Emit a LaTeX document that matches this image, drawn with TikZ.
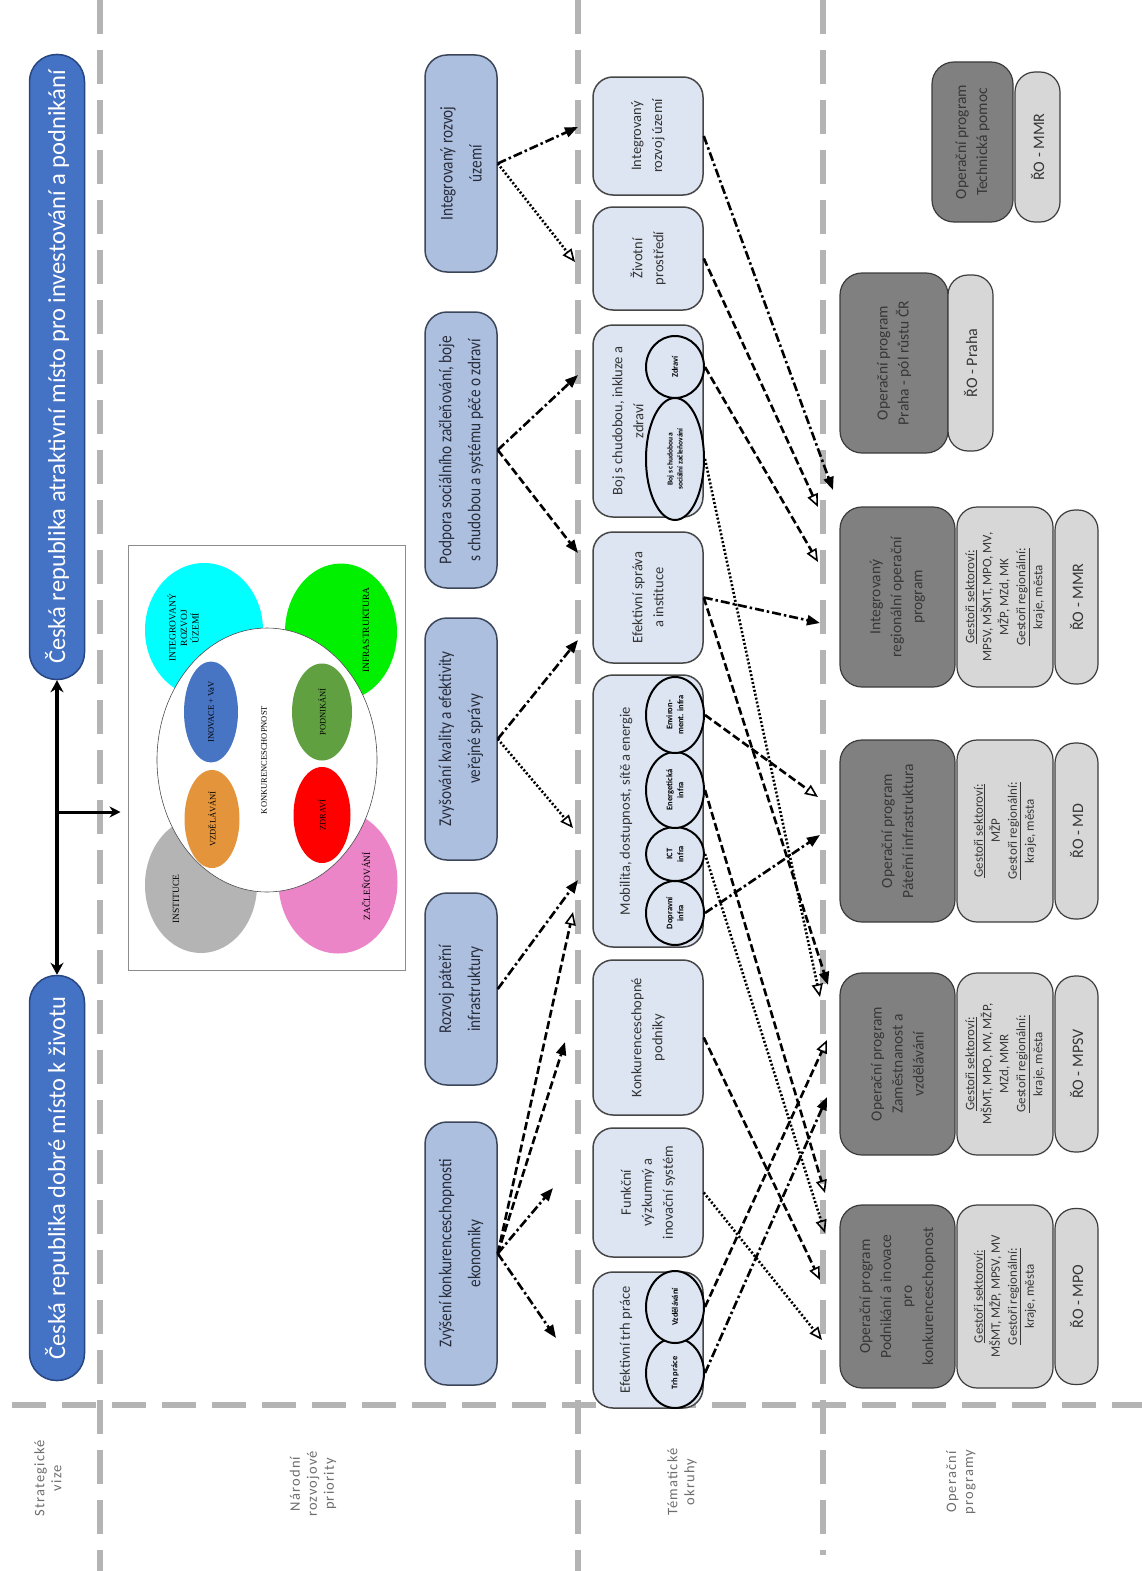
\documentclass[tikz,border=0pt]{standalone}
\usepackage{fontspec}
\setmainfont{Carlito}
\newfontfamily\narrowfont{Carlito}[FakeStretch=0.85]
\newfontfamily\spacedfont{Carlito}[LetterSpace=8]
\newfontfamily\picfont{Liberation Serif}
\usetikzlibrary{arrows.meta,shapes.geometric}
\definecolor{sepgray}{RGB}{180,180,180}
\definecolor{visfill}{RGB}{68,114,196}
\definecolor{visborder}{RGB}{40,70,130}
\definecolor{priofill}{RGB}{172,191,222}
\definecolor{prioborder}{RGB}{60,70,90}
\definecolor{priotext}{RGB}{40,45,60}
\definecolor{temafill}{RGB}{221,229,243}
\definecolor{temaborder}{RGB}{70,70,70}
\definecolor{opdark}{RGB}{128,128,128}
\definecolor{oplight}{RGB}{215,215,215}
\definecolor{opborder}{RGB}{60,60,60}
\definecolor{optext}{RGB}{55,55,55}
\definecolor{labgray}{RGB}{110,110,110}
\definecolor{ecyan}{RGB}{0,255,255}
\definecolor{egreen}{RGB}{0,240,0}
\definecolor{egray}{RGB}{180,180,180}
\definecolor{epink}{RGB}{236,132,200}
\definecolor{eblue}{RGB}{72,116,196}
\definecolor{eorange}{RGB}{228,148,58}
\definecolor{edgreen}{RGB}{96,160,64}
\definecolor{ered}{RGB}{255,0,0}
\tikzset{
  sepline/.style={draw=sepgray, line width=6pt, dash pattern=on 34pt off 16pt},
  visbox/.style={rotate=90, draw=visborder, fill=visfill, line width=1.5pt, rounded corners=27pt,
    minimum height=55pt, text=white, font=\fontsize{24.5}{28}\selectfont, inner sep=0pt},
  priobox/.style={rotate=90, draw=prioborder, fill=priofill, line width=1.5pt, rounded corners=22pt,
    minimum height=72pt, align=center, text=priotext, font=\narrowfont\fontsize{18}{29}\selectfont, inner sep=0pt},
  temabox/.style={rotate=90, draw=temaborder, fill=temafill, line width=1.5pt, rounded corners=20pt,
    minimum height=110pt, align=center, text=black!80, font=\fontsize{14.5}{21}\selectfont, inner sep=0pt},
  tematitle/.style={rotate=90, align=center, text=black!80, font=\fontsize{14.5}{21}\selectfont, inner sep=0pt},
  inell/.style={rotate=90, ellipse, draw=black, fill=temafill, line width=2pt, minimum height=58pt,
    align=center, font=\bfseries\fontsize{8.5}{11}\selectfont, inner xsep=-14pt, inner ysep=0pt},
  opdarkbox/.style={rotate=90, draw=opborder, fill=opdark, line width=1.2pt, rounded corners=22pt,
    align=center, text=optext, font=\fontsize{15.5}{21}\selectfont, inner sep=0pt},
  oplightbox/.style={rotate=90, draw=opborder, fill=oplight, line width=1.2pt, rounded corners=20pt,
    align=center, text=optext, font=\fontsize{16}{18}\selectfont, inner sep=0pt},
  gestbox/.style={oplightbox, font=\fontsize{13}{17}\selectfont},
  sidelab/.style={rotate=90, align=center, text=labgray, font=\spacedfont\fontsize{14.5}{17}\selectfont, inner sep=0pt},
  pell/.style={rotate=90, ellipse, inner xsep=-15pt, inner ysep=0pt, align=center, font=\picfont\fontsize{8.5}{9}\selectfont},
  ptext/.style={rotate=90, inner sep=0pt, align=center, font=\picfont\fontsize{9.5}{11.5}\selectfont},
  arr/.style={line width=2.6pt},
  ddot/.style={arr, dash pattern=on 9pt off 3pt on 2.5pt off 3pt},
  dsh/.style={arr, dash pattern=on 8pt off 3.5pt},
  dtt/.style={arr, dash pattern=on 2pt off 2pt},
  fh/.style={-{Triangle[length=13pt,width=10pt]}},
  oh/.style={-{Triangle[open,length=13pt,width=11pt,line width=1.6pt]}}
}
\begin{document}
\begin{tikzpicture}[x=1pt,y=-1pt]
\useasboundingbox (0,0) rectangle (1142,1571);
\fill[white] (0,0) rectangle (1142,1571);
% separators
\draw[sepline] (100,0) -- (100,1571);
\draw[sepline] (578,0) -- (578,1571);
\draw[sepline] (823,0) -- (823,1555);
\draw[sepline] (12,1405) -- (1142,1405);

% side labels
\node[sidelab] (l1) at (48,1478) {Strategické\\vize};
\node[sidelab] (l2) at (313,1484) {Národní\\rozvojové\\priority};
\node[sidelab] (l3) at (682,1482) {Tématické\\okruhy};
\node[sidelab] (l4) at (961,1482) {Operační\\programy};

% visions
\node[visbox, minimum width=625pt] (vis2) at (57,367) {Česká republika atraktivní místo pro investování a podnikání};
\node[visbox, minimum width=405pt] (vis1) at (57,1178) {Česká republika dobré místo k životu};
\draw[line width=4.5pt, {Stealth[length=12pt,width=13pt]}-{Stealth[length=12pt,width=13pt]}] (vis2.west) -- (vis1.east);

% picture frame
\node[draw=black!45, line width=1pt, minimum width=277pt, minimum height=425pt, inner sep=0pt] (picfr) at (266.5,757.5) {};
\coordinate (br) at (57,812);
\draw[line width=3pt, -{Stealth[length=11pt,width=11pt]}, shorten >=7pt] (br) -- (br -| picfr.west);
\node[pell, fill=ecyan, minimum width=134pt, minimum height=118pt] (ec) at (204,630) {};
\node[pell, fill=egreen, minimum width=137pt, minimum height=112pt] (eg) at (341,632) {};
\node[pell, fill=egray, minimum width=136pt, minimum height=112pt] (egr) at (201,885) {};
\node[pell, fill=epink, minimum width=143pt, minimum height=119pt] (ep) at (338,882) {};
\node[ptext] (ect) at (183,628) {INTEGROVANÝ\\ROZVOJ\\ÚZEMÍ};
\node[ptext] (egt) at (366,630) {INFRASTRUKTURA};
\node[ptext] (egrt) at (176,899) {INSTITUCE};
\node[ptext] (ept) at (366,886) {ZAČLEŇOVÁNÍ};
\node[pell, fill=white, draw=black!70, line width=0.6pt, minimum width=264pt, minimum height=220pt] (ew) at (267,760) {};
\node[rotate=90, inner sep=0pt, font=\picfont\fontsize{8.5}{9}\selectfont] (ewt) at (264,760) {KONKURENCESCHOPNOST};
\node[pell, fill=eblue, minimum width=101pt, minimum height=54pt] (eb) at (211,712) {INOVACE + VaV};
\node[pell, fill=eorange, minimum width=98pt, minimum height=55pt] (eo) at (212,819) {VZDĚLÁVÁNÍ};
\node[pell, fill=edgreen, minimum width=97pt, minimum height=60pt] (edg) at (322,712) {PODNIKÁNÍ};
\node[pell, fill=ered, minimum width=96pt, minimum height=57pt] (er) at (322,815) {ZDRAVÍ};

% priorities
\node[priobox, minimum width=263pt] (p1) at (461,1253.5) {Zvýšení konkurenceschopnosti\\ekonomiky};
\node[priobox, minimum width=192pt] (p2) at (461,989) {Rozvoj páteřní\\infrastruktury};
\node[priobox, minimum width=242pt] (p3) at (461,739) {Zvyšování kvality a efektivity\\veřejné správy};
\node[priobox, minimum width=276pt] (p4) at (461,450) {Podpora sociálního začleňování, boje\\s chudobou a systému péče o zdraví};
\node[priobox, minimum width=217pt] (p5) at (461,163.5) {Integrovaný rozvoj\\území};

% thematic
\node[temabox, minimum width=136pt] (t1) at (648,1340) {};
\node[tematitle] (t1t) at (626,1340) {Efektivní trh práce};
\node[inell, minimum width=70pt] (t1a) at (675,1373) {Trh práce};
\node[inell, minimum width=72pt] (t1b) at (675,1307) {Vzdělávání};
\node[temabox, minimum width=129pt] (t2) at (648,1192.5) {Funkční\\výzkumný a\\inovační systém};
\node[temabox, minimum width=155pt] (t3) at (648,1037.5) {Konkurenceschopné\\podniky};
\node[temabox, minimum width=272pt] (t4) at (648,811) {};
\node[tematitle] (t4t) at (626,811) {Mobilita, dostupnost, sítě a energie};
\node[inell, minimum width=64pt] (t4a) at (675,913) {Dopravní\\infra};
\node[inell, minimum width=54pt] (t4b) at (675,854) {ICT\\infra};
\node[inell, minimum width=76pt] (t4c) at (675,790) {Energetická\\infra};
\node[inell, minimum width=76pt] (t4d) at (675,715) {Environ-\\ment. infra};
\node[temabox, minimum width=131pt] (t5) at (648,597.5) {Efektivní správa\\a instituce};
\node[temabox, minimum width=192pt] (t6) at (648,421) {};
\node[tematitle] (t6t) at (628,421) {Boj s chudobou, inkluze a\\zdraví};
\node[inell, minimum width=122pt, font=\bfseries\fontsize{7.5}{10}\selectfont] (t6a) at (675,459) {Boj s chudobou a\\sociální začleňování};
\node[inell, minimum width=62pt] (t6b) at (675,367) {Zdraví};
\node[temabox, minimum width=103pt] (t7) at (648,258.5) {Životní\\prostředí};
\node[temabox, minimum width=118pt] (t8) at (648,136) {Integrovaný\\rozvoj území};

% operational programmes
\node[opdarkbox, minimum width=183pt, minimum height=115pt] (o1) at (897.5,1296.5) {Operační program\\Podnikání a inovace\\pro\\konkurenceschopnost};
\node[gestbox, minimum width=183pt, minimum height=96pt] (o1g) at (1005,1296.5) {\underline{Gestoři sektoroví:}\\MŠMT, MŽP, MPSV, MV\\\underline{Gestoři regionální:}\\kraje, města};
\node[oplightbox, minimum width=176pt, minimum height=43pt] (o1r) at (1076.5,1296.5) {ŘO - MPO};

\node[opdarkbox, minimum width=182pt, minimum height=115pt] (o2) at (897.5,1064) {Operační program\\Zaměstnanost a\\vzdělávání};
\node[gestbox, minimum width=182pt, minimum height=96pt] (o2g) at (1005,1064) {\underline{Gestoři sektoroví:}\\MŠMT, MPO, MV, MŽP,\\MZd, MMR\\\underline{Gestoři regionální:}\\kraje, města};
\node[oplightbox, minimum width=176pt, minimum height=43pt] (o2r) at (1076.5,1064) {ŘO - MPSV};

\node[opdarkbox, minimum width=182pt, minimum height=115pt] (o3) at (897.5,831) {Operační program\\Páteřní infrastruktura};
\node[gestbox, minimum width=182pt, minimum height=96pt] (o3g) at (1005,831) {\underline{Gestoři sektoroví:}\\MŽP\\\underline{Gestoři regionální:}\\kraje, města};
\node[oplightbox, minimum width=176pt, minimum height=43pt] (o3r) at (1076.5,831) {ŘO - MD};

\node[opdarkbox, minimum width=180pt, minimum height=115pt] (o4) at (897.5,597) {Integrovaný\\regionální operační\\program};
\node[gestbox, minimum width=180pt, minimum height=96pt] (o4g) at (1005,597) {\underline{Gestoři sektoroví:}\\MPSV, MŠMT, MPO, MV,\\MŽP, MZd, MK\\\underline{Gestoři regionální:}\\kraje, města};
\node[oplightbox, minimum width=174pt, minimum height=43pt] (o4r) at (1076.5,597) {ŘO - MMR};

\node[opdarkbox, minimum width=180pt, minimum height=108pt] (o5) at (894,363) {Operační program\\Praha - pól růstu ČR};
\node[oplightbox, minimum width=176pt, minimum height=45pt] (o5r) at (970.5,363) {ŘO - Praha};

\node[opdarkbox, minimum width=160pt, minimum height=81pt] (o6) at (972.5,142) {Operační program\\Technická pomoc};
\node[oplightbox, minimum width=150pt, minimum height=45pt] (o6r) at (1037.5,147) {ŘO - MMR};

% arrow end coordinates: priorities -> thematic
\coordinate (a1) at (578,127);
\coordinate (a2) at (575,262);
\coordinate (a3) at (578,375);
\coordinate (a4) at (578,553);
\coordinate (a5) at (578,640);
\coordinate (a6) at (573,828);
\coordinate (a7) at (578,880);
\coordinate (a8) at (573,912);
\coordinate (a9) at (565,1042);
\coordinate (a10) at (553,1188);
\coordinate (a11) at (556,1338);
\draw[ddot,fh] (p5.south) -- (a1);
\draw[dtt,oh] (p5.south) -- (a2);
\draw[ddot,fh] (p4.south) -- (a3);
\draw[dsh,fh] (p4.south) -- (a4);
\draw[ddot,fh] (p3.south) -- (a5);
\draw[dtt,oh] (p3.south) -- (a6);
\draw[ddot,fh] (p2.south) -- (a7);
\draw[dsh,oh] (p1.south) -- (a8);
\draw[dsh,fh] (p1.south) -- (a9);
\draw[ddot,fh] (p1.south) -- (a10);
\draw[ddot,fh] (p1.south) -- (a11);

% thematic -> operational programmes
\coordinate (b1) at (833,490);
\coordinate (b2) at (818,507);
\coordinate (b3) at (818,562);
\coordinate (b4) at (820,623);
\coordinate (b5) at (828,985);
\coordinate (b6) at (820,997);
\coordinate (b7) at (818,797);
\coordinate (b8) at (820,835);
\coordinate (b9) at (825,1193);
\coordinate (b10) at (825,1233);
\coordinate (b11) at (820,1280);
\coordinate (b12) at (822,1340);
\coordinate (b13) at (827,1040);
\coordinate (b14) at (827,1097);
\draw[ddot,fh] (t8.south) -- (b1);
\draw[dsh,oh] (t7.south) -- (b2);
\draw[dsh,oh] (t6b.south) -- (b3);
\draw[ddot,fh] (t5.south) -- (b4);
\draw[dsh,fh] (t5.south) -- (b5);
\draw[dtt,oh] (t6a.south) -- (b6);
\draw[dsh,oh] (t4d.south) -- (b7);
\draw[ddot,fh] (t4a.south) -- (b8);
\draw[dsh,oh] (t4c.south) -- (b9);
\draw[dtt,oh] (t4b.south) -- (b10);
\draw[dsh,oh] (t3.south) -- (b11);
\draw[dtt,oh] (t2.south) -- (b12);
\draw[dsh,oh] (t1b.south) -- (b13);
\draw[ddot,fh] (t1a.south) -- (b14);
\end{tikzpicture}
\end{document}
